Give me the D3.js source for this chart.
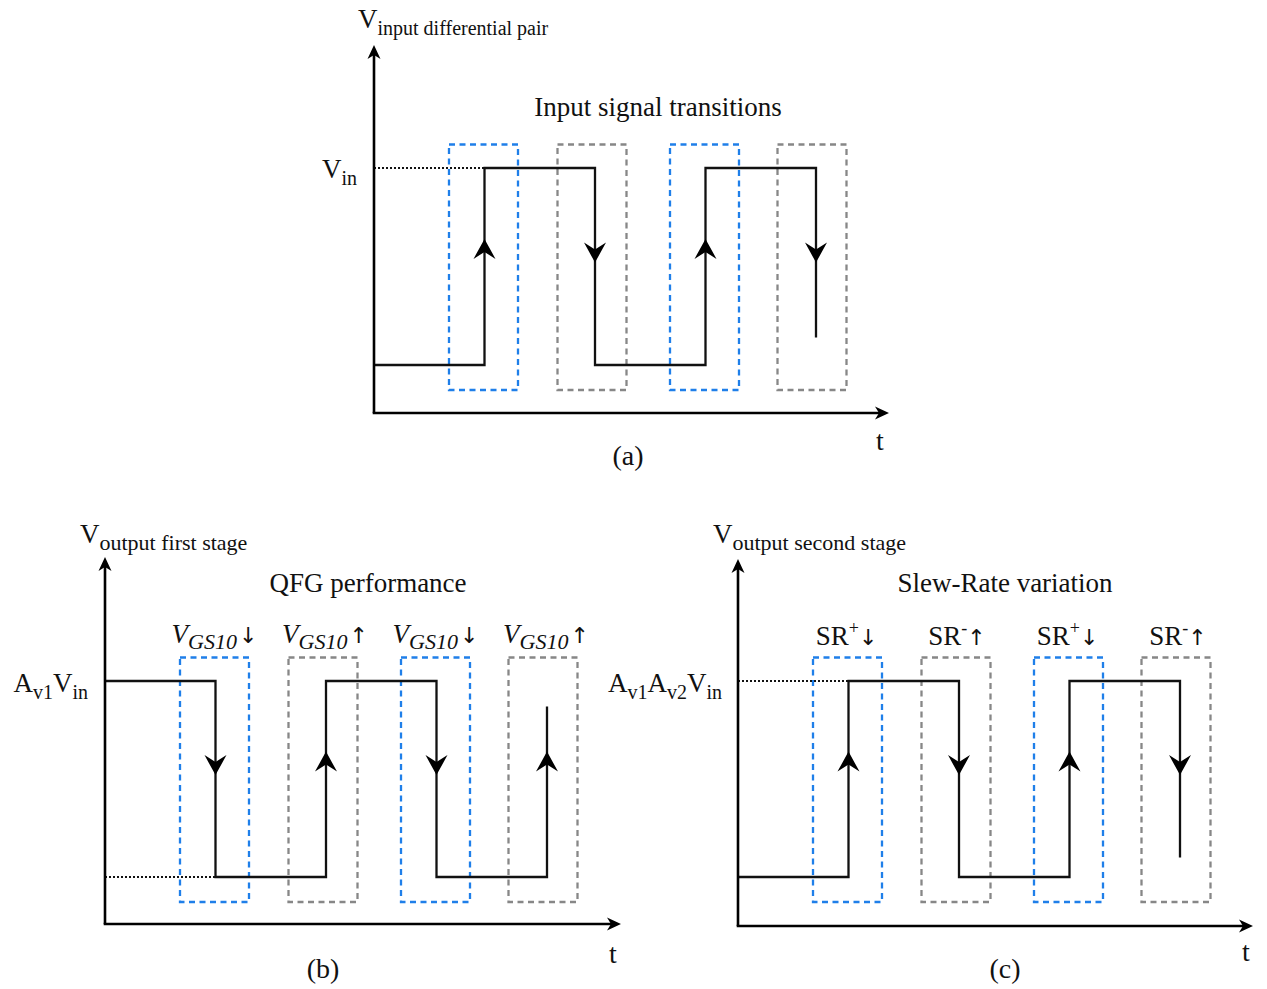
<!DOCTYPE html>
<html>
<head>
<meta charset="utf-8">
<script src="https://cdn.jsdelivr.net/npm/d3@7"></script>
<style>
  body, html {
    padding: 0;
    margin: 0;
    background: #fff;
  }
  svg {
    display: block;
  }
  text {
    font-family: 'Liberation Serif', 'Times New Roman', serif;
    fill: #111;
  }
  tspan.arr {
    font-family: 'DejaVu Sans', sans-serif;
    fill: #111;
  }
</style>
</head>
<body>
<svg width="1267" height="989"></svg>

<script>

  // transition instants (in time units) shared by the three waveforms
  var transitions = [1, 2, 3, 4];

  // signal levels: initial level, then level after each transition (last one is cut short)
  var levelsA = [0, 1, 0, 1, 0.14];
  var levelsB = [1, 0, 1, 0, 0.87];
  var levelsC = [0, 1, 0, 1, 0.1];

  // dashed window colour per transition
  var boxKinds = ['blue', 'grey', 'blue', 'grey'];

  var titles = ['Input signal transitions', 'QFG performance', 'Slew-Rate variation'];
  var axisSubs = ['input differential pair', 'output first stage', 'output second stage'];
  var panelTags = ['(a)', '(b)', '(c)'];

  var qfgArrows = ['\u2193', '\u2191', '\u2193', '\u2191'];
  var srSigns = ['+', '-', '+', '-'];
  var srArrows = ['\u2193', '\u2191', '\u2193', '\u2191'];

  var colors = {blue: '#1f7fe9', grey: '#878787'};

  // windows are drawn slightly left of the edge in the original
  var winShift = [-1, -3, -1, -4];

  var svg = d3.select('svg');
  svg.append('rect').attr('width', 1267).attr('height', 989).attr('fill', '#fff');

  // text with sub/superscripts: parts = [[string, size, shift, italic, cls]]
  function richText(g, x, y, parts, anchor) {
    var t = g.append('text')
      .attr('x', x)
      .attr('y', y)
      .attr('text-anchor', anchor || 'start');
    var prev = 0;
    parts.forEach(function (p) {
      var shift = p[2] || 0;
      t.append('tspan')
        .attr('class', p[4] || null)
        .attr('dy', shift - prev)
        .style('font-size', p[1] + 'px')
        .style('font-style', p[3] ? 'italic' : 'normal')
        .text(p[0]);
      prev = shift;
    });
    return t;
  }

  var arrowUp = 'M0,0 L11,20 L0,13 L-11,20 Z';
  var axisHead = 'M0,0 L6.5,14 L0,10 L-6.5,14 Z';

  function drawPanel(p) {
    var g = svg.append('g');

    var x = d3.scaleLinear().domain([0, 1]).range([p.ox, p.ox + p.unit]);
    var y = d3.scaleLinear().domain([0, 1]).range([p.low, p.high]);

    // dashed windows around each transition
    g.selectAll('rect.win')
      .data(transitions)
      .enter()
      .append('rect')
        .attr('class', 'win')
        .attr('x', function (d, i) { return x(d) - 34.5 + winShift[i]; })
        .attr('y', y(1) - 23.5)
        .attr('width', 69)
        .attr('height', y(0) - y(1) + 48.5)
        .attr('fill', 'none')
        .attr('stroke', function (d, i) { return colors[boxKinds[i]]; })
        .attr('stroke-width', 2.3)
        .attr('stroke-dasharray', '6,4.5');

    // dotted reference line from the axis to the first transition
    g.append('line')
      .attr('x1', x(0))
      .attr('x2', x(transitions[0]))
      .attr('y1', y(p.dotLevel))
      .attr('y2', y(p.dotLevel))
      .attr('stroke', '#111')
      .attr('stroke-width', 2)
      .attr('stroke-dasharray', '2,2');

    // waveform
    var pts = [[0, p.levels[0]]];
    transitions.forEach(function (t, i) {
      pts.push([t, p.levels[i]]);
      pts.push([t, p.levels[i + 1]]);
    });
    var line = d3.line()
      .x(function (d) { return x(d[0]); })
      .y(function (d) { return y(d[1]); });
    g.append('path')
      .attr('d', line(pts))
      .attr('fill', 'none')
      .attr('stroke', '#111')
      .attr('stroke-width', 2.3);

    // direction arrows on the edges
    g.selectAll('path.dir')
      .data(transitions)
      .enter()
      .append('path')
        .attr('class', 'dir')
        .attr('d', arrowUp)
        .attr('fill', '#000')
        .attr('transform', function (d, i) {
          var up = p.levels[i + 1] > p.levels[i];
          var tip = up ? 0.64 : 0.52;
          return 'translate(' + x(d) + ',' + y(tip) + ')' + (up ? '' : ' rotate(180)');
        });

    // axes
    g.append('line')
      .attr('x1', p.ox).attr('x2', p.ox)
      .attr('y1', p.oy).attr('y2', p.top + 8)
      .attr('stroke', '#000').attr('stroke-width', 2.6);
    g.append('line')
      .attr('x1', p.ox - 1.3).attr('x2', p.right - 8)
      .attr('y1', p.oy).attr('y2', p.oy)
      .attr('stroke', '#000').attr('stroke-width', 2.6);
    g.append('path')
      .attr('d', axisHead)
      .attr('transform', 'translate(' + p.ox + ',' + p.top + ')');
    g.append('path')
      .attr('d', axisHead)
      .attr('transform', 'translate(' + p.right + ',' + p.oy + ') rotate(90)');

    // labels
    richText(g, p.vLabel[0], p.vLabel[1], [['V', 27, 0], [axisSubs[p.idx], p.subSize, 7]]);
    g.append('text')
      .attr('x', p.title[0]).attr('y', p.title[1])
      .attr('text-anchor', 'middle')
      .style('font-size', '27px')
      .text(titles[p.idx]);
    g.append('text')
      .attr('x', p.tLabel[0]).attr('y', p.tLabel[1])
      .attr('text-anchor', 'middle')
      .style('font-size', '28px')
      .text('t');
    g.append('text')
      .attr('x', p.tag[0]).attr('y', p.tag[1])
      .attr('text-anchor', 'middle')
      .style('font-size', '28px')
      .text(panelTags[p.idx]);

    return {g: g, x: x, y: y};
  }

  var pa = drawPanel({
    idx: 0, ox: 374, oy: 413, top: 45, right: 889, low: 365, high: 168, unit: 110.5,
    levels: levelsA, dotLevel: 1,
    vLabel: [358, 28], subSize: 20, title: [658, 116], tLabel: [880, 450], tag: [628, 465]
  });
  richText(pa.g, 357, 178, [['V', 27, 0], ['in', 20, 7]], 'end');

  var pb = drawPanel({
    idx: 1, ox: 105, oy: 924, top: 557, right: 621, low: 877, high: 681, unit: 110.5,
    levels: levelsB, dotLevel: 0,
    vLabel: [80, 543], subSize: 22, title: [368, 592], tLabel: [613, 963], tag: [323, 978]
  });
  richText(pb.g, 88, 692, [['A', 27, 0], ['v1', 20, 7], ['V', 27, 0], ['in', 20, 7]], 'end');
  pb.g.selectAll('text.gs')
    .data(transitions)
    .enter()
    .each(function (d, i) {
      richText(pb.g, pb.x(d) - 1, 643, [['V', 27, 0, true], ['GS10', 22, 6, true], [' ', 8, 0], [qfgArrows[i], 22, 0, false, 'arr']], 'middle');
    });

  var pc = drawPanel({
    idx: 2, ox: 738, oy: 926, top: 559, right: 1253, low: 877, high: 681, unit: 110.5,
    levels: levelsC, dotLevel: 1,
    vLabel: [713, 543], subSize: 22, title: [1005, 592], tLabel: [1246, 961], tag: [1005, 978]
  });
  richText(pc.g, 722, 692, [['A', 27, 0], ['v1', 20, 7], ['A', 27, 0], ['v2', 20, 7], ['V', 27, 0], ['in', 20, 7]], 'end');
  pc.g.selectAll('text.sr')
    .data(transitions)
    .enter()
    .each(function (d, i) {
      richText(pc.g, pc.x(d) - 2, 645, [['SR', 27, 0], [srSigns[i], 18, -11], [srArrows[i], 22, 0, false, 'arr']], 'middle');
    });

</script>
</body>
</html>
